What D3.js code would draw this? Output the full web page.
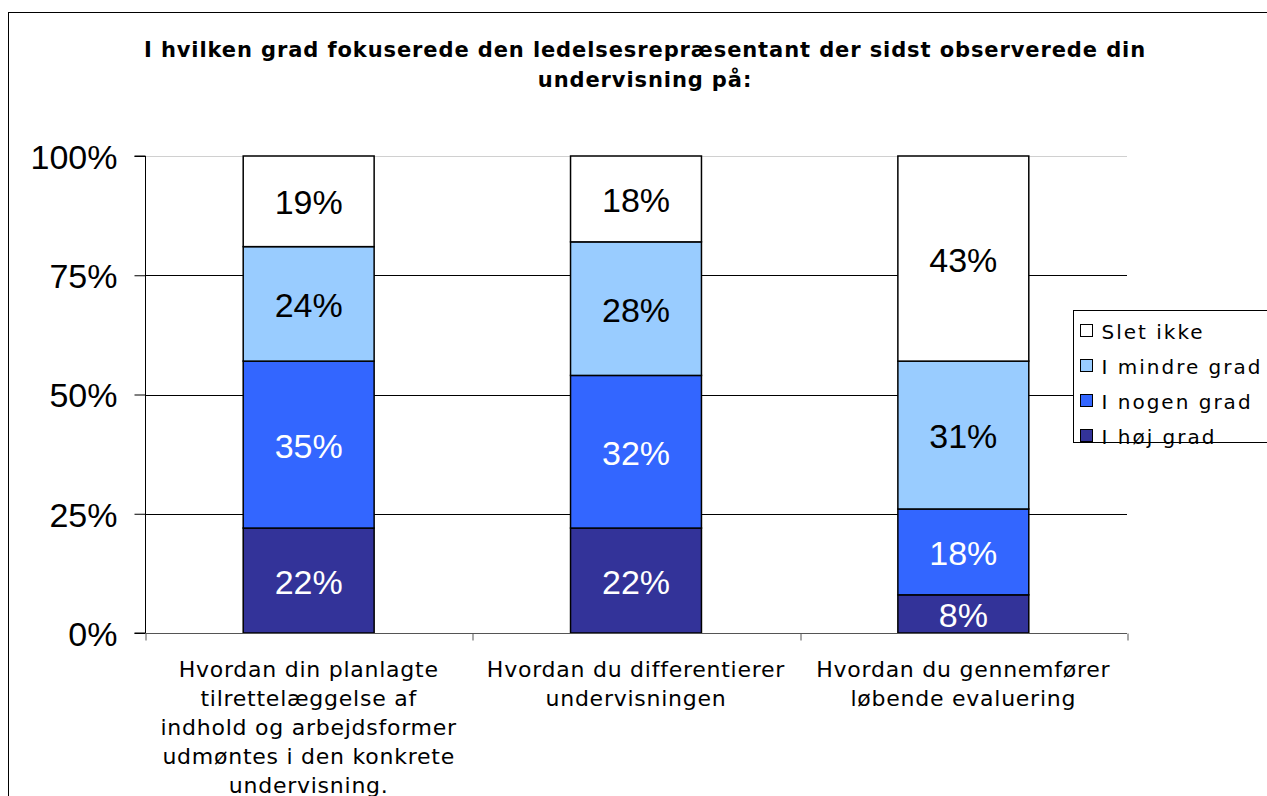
<!DOCTYPE html>
<html>
<head>
<meta charset="utf-8">
<script src="https://cdn.jsdelivr.net/npm/d3@7"></script>
<style>
  html, body { margin: 0; padding: 0; background: #fff; }
  svg { display: block; }
</style>
</head>
<body>
<svg id="chart" width="1267" height="796"></svg>
<script>
const titleLines = ["I hvilken grad fokuserede den ledelsesrepræsentant der sidst observerede din", "undervisning på:"];
const categories = ["c1", "c2", "c3"];
const categoryLabels = [
  ["Hvordan din planlagte", "tilrettelæggelse af", "indhold og arbejdsformer", "udmøntes i den konkrete", "undervisning."],
  ["Hvordan du differentierer", "undervisningen"],
  ["Hvordan du gennemfører", "løbende evaluering"]
];
const seriesNames = ["I høj grad", "I nogen grad", "I mindre grad", "Slet ikke"];
const seriesColors = ["#333399", "#3366FF", "#99CCFF", "#FFFFFF"];
const labelColors = ["#FFFFFF", "#FFFFFF", "#000000", "#000000"];
const hojGrad = [22, 22, 8];
const nogenGrad = [35, 32, 18];
const mindreGrad = [24, 28, 31];
const sletIkke = [19, 18, 43];
const yTicks = [0, 25, 50, 75, 100];

const seriesValues = [hojGrad, nogenGrad, mindreGrad, sletIkke];
const rows = categories.map((c, i) => {
  const r = { cat: c };
  seriesNames.forEach((s, j) => r[s] = seriesValues[j][i]);
  return r;
});
const stack = d3.stack().keys(seriesNames)(rows);

const svg = d3.select("#chart");

// outer chart border
svg.append("rect").attr("x", 8.5).attr("y", 12.5).attr("width", 1300).attr("height", 820)
  .attr("fill", "#fff").attr("stroke", "#000").attr("stroke-width", 1);

// title
const title = svg.append("text").attr("text-anchor", "middle")
  .style("font-family", "'DejaVu Sans', Verdana, sans-serif")
  .style("font-weight", "bold").style("font-size", "21px")
  .style("letter-spacing", "0.9px");
titleLines.forEach((t, i) => {
  title.append("tspan").attr("x", 645).attr("y", 57 + i * 30).text(t);
});

const x = d3.scaleBand().domain(categories).range([145, 1127]).padding(0);
const xb = d3.scaleLinear().domain([0, categories.length]).range([145, 1127]);
const y = d3.scaleLinear().domain([0, 100]).range([633, 156]);

// gridlines
svg.append("g").selectAll("line").data(yTicks.filter(d => d > 0)).join("line")
  .attr("x1", 145).attr("x2", 1127)
  .attr("y1", d => Math.round(y(d)) + 0.5).attr("y2", d => Math.round(y(d)) + 0.5)
  .attr("stroke", d => d === 100 ? "#d0d0d0" : "#000").attr("stroke-width", 1);

// bars
const barW = x.bandwidth() * 0.4;
const layers = svg.append("g").selectAll("g").data(stack).join("g")
  .attr("fill", (d, i) => seriesColors[i]);
layers.selectAll("rect").data(d => d).join("rect")
  .attr("x", d => x(d.data.cat) + (x.bandwidth() - barW) / 2)
  .attr("y", d => y(d[1]))
  .attr("width", barW)
  .attr("height", d => y(d[0]) - y(d[1]))
  .attr("stroke", "#000").attr("stroke-width", 1.5);

// bar labels
const lbl = svg.append("g").style("font-family", "'Liberation Sans', Arial, sans-serif")
  .style("font-size", "34px").attr("text-anchor", "middle");
stack.forEach((layer, i) => {
  lbl.selectAll(null).data(layer).join("text")
    .attr("x", d => x(d.data.cat) + x.bandwidth() / 2)
    .attr("y", d => (y(d[0]) + y(d[1])) / 2 + 13)
    .attr("fill", labelColors[i])
    .text(d => (d[1] - d[0]) + "%");
});

// y axis
const yAxis = svg.append("g").attr("transform", "translate(145.5,0)")
  .call(d3.axisLeft(y).tickValues(yTicks).tickSize(11).tickPadding(17).tickFormat(d => d + "%"));
yAxis.selectAll("text").style("font-family", "'Liberation Sans', Arial, sans-serif")
  .style("font-size", "34px").attr("fill", "#000").attr("dy", "0.36em");
yAxis.selectAll("line, path").attr("stroke", "#000");
yAxis.select(".domain").attr("d", "M-11," + y(100) + "H0V" + y(0) + "H-11").attr("stroke", "#000");

// x axis
const xAxis = svg.append("g").attr("transform", "translate(0," + (Math.round(y(0)) + 0.5) + ")")
  .call(d3.axisBottom(xb).tickValues(d3.range(categories.length + 1)).tickSize(7).tickFormat(""));
xAxis.selectAll("line").attr("stroke", "#555").attr("transform", d => "translate(" + (Math.round(xb(d)) - xb(d) + 0.5) + ",0)");
xAxis.select(".domain").attr("d", "M145,0H1127").attr("stroke", "#555");

// category labels
const cat = svg.append("g").style("font-family", "'DejaVu Sans', Verdana, sans-serif")
  .style("font-size", "22px").style("letter-spacing", "0.75px")
  .attr("text-anchor", "middle").attr("fill", "#000");
categories.forEach((c, i) => {
  const t = cat.append("text");
  categoryLabels[i].forEach((line, k) => {
    t.append("tspan").attr("x", x(c) + x.bandwidth() / 2).attr("y", 677 + k * 29).text(line);
  });
});

// legend
const lg = svg.append("g").attr("transform", "translate(1073.5,310.5)");
lg.append("rect").attr("width", 220).attr("height", 132).attr("fill", "#fff").attr("stroke", "#000");
const legOrder = seriesNames.slice().reverse();
const legColors = seriesColors.slice().reverse();
legOrder.forEach((s, i) => {
  const gy = 21 + i * 35;
  lg.append("rect").attr("x", 7).attr("y", gy - 7).attr("width", 12).attr("height", 12)
    .attr("fill", legColors[i]).attr("stroke", "#000");
  lg.append("text").attr("x", 28).attr("y", gy + 7)
    .style("font-family", "'DejaVu Sans', Verdana, sans-serif").style("font-size", "20px")
    .style("letter-spacing", "2px")
    .attr("fill", "#000").text(s);
});
</script>
</body>
</html>
